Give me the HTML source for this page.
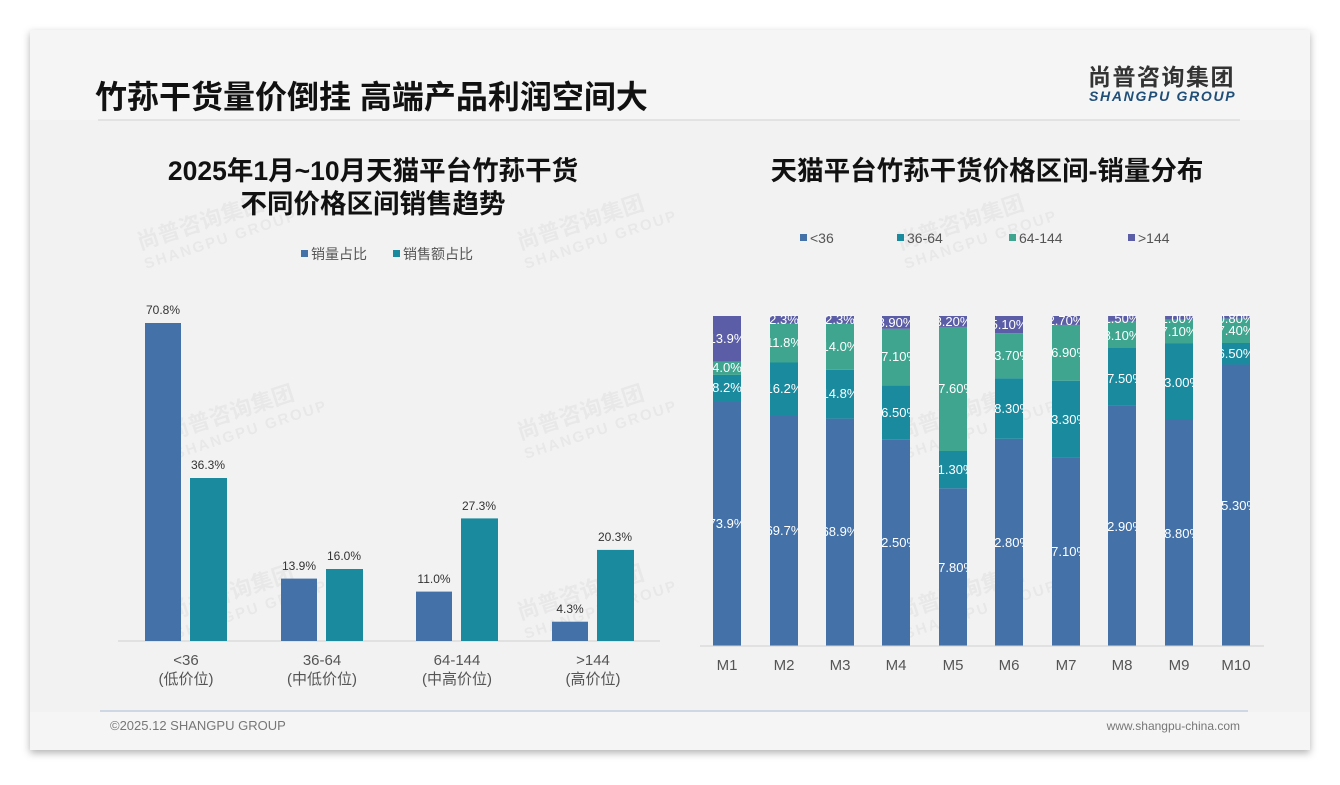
<!DOCTYPE html>
<html><head><meta charset="utf-8"><style>
body{margin:0;width:1340px;height:780px;background:#fff;overflow:hidden;font-family:"Liberation Sans","Noto Sans CJK SC",sans-serif}
</style></head><body>
<svg width="1340" height="780" xmlns="http://www.w3.org/2000/svg" font-family="Liberation Sans, Noto Sans CJK SC, sans-serif">
<defs>
<filter id="sh" x="-5%" y="-5%" width="110%" height="115%"><feDropShadow dx="0" dy="3" stdDeviation="4" flood-color="#000" flood-opacity="0.3"/></filter>
<clipPath id="c1"><rect x="713" y="300" width="28" height="350"/></clipPath>
<clipPath id="c2"><rect x="770" y="300" width="28" height="350"/></clipPath>
<clipPath id="c3"><rect x="826" y="300" width="28" height="350"/></clipPath>
<clipPath id="c4"><rect x="882" y="300" width="28" height="350"/></clipPath>
<clipPath id="c5"><rect x="939" y="300" width="28" height="350"/></clipPath>
<clipPath id="c6"><rect x="995" y="300" width="28" height="350"/></clipPath>
<clipPath id="c7"><rect x="1052" y="300" width="28" height="350"/></clipPath>
<clipPath id="c8"><rect x="1108" y="300" width="28" height="350"/></clipPath>
<clipPath id="c9"><rect x="1165" y="300" width="28" height="350"/></clipPath>
<clipPath id="c10"><rect x="1222" y="300" width="28" height="350"/></clipPath>
</defs>
<rect x="30" y="30" width="1280" height="720" fill="#f5f5f5" filter="url(#sh)"/>
<rect x="30" y="120" width="1280" height="592" fill="#f2f2f2"/>
<text x="95" y="108" font-size="32" font-weight="bold" fill="#111">竹荪干货量价倒挂 高端产品利润空间大</text>
<line x1="98" y1="120" x2="1240" y2="120" stroke="#ddd" stroke-width="1.5"/>
<text x="1088" y="85" font-size="23" font-weight="bold" fill="#333" letter-spacing="1.5">尚普咨询集团</text>
<text x="1089" y="101" font-size="14" font-weight="bold" font-style="italic" fill="#1f4e79" letter-spacing="1.7">SHANGPU GROUP</text>
<!-- watermarks -->
<g fill="#000" opacity="0.04" font-weight="bold">
<g transform="translate(140,250) rotate(-18)"><text font-size="22">尚普咨询集团</text><text y="20" font-size="15" letter-spacing="2">SHANGPU GROUP</text></g>
<g transform="translate(520,250) rotate(-18)"><text font-size="22">尚普咨询集团</text><text y="20" font-size="15" letter-spacing="2">SHANGPU GROUP</text></g>
<g transform="translate(900,250) rotate(-18)"><text font-size="22">尚普咨询集团</text><text y="20" font-size="15" letter-spacing="2">SHANGPU GROUP</text></g>
<g transform="translate(170,440) rotate(-18)"><text font-size="22">尚普咨询集团</text><text y="20" font-size="15" letter-spacing="2">SHANGPU GROUP</text></g>
<g transform="translate(520,440) rotate(-18)"><text font-size="22">尚普咨询集团</text><text y="20" font-size="15" letter-spacing="2">SHANGPU GROUP</text></g>
<g transform="translate(900,440) rotate(-18)"><text font-size="22">尚普咨询集团</text><text y="20" font-size="15" letter-spacing="2">SHANGPU GROUP</text></g>
<g transform="translate(170,620) rotate(-18)"><text font-size="22">尚普咨询集团</text><text y="20" font-size="15" letter-spacing="2">SHANGPU GROUP</text></g>
<g transform="translate(520,620) rotate(-18)"><text font-size="22">尚普咨询集团</text><text y="20" font-size="15" letter-spacing="2">SHANGPU GROUP</text></g>
<g transform="translate(900,620) rotate(-18)"><text font-size="22">尚普咨询集团</text><text y="20" font-size="15" letter-spacing="2">SHANGPU GROUP</text></g>
</g>
<!-- left chart -->
<text x="373" y="180" font-size="26.5" font-weight="bold" fill="#111" text-anchor="middle">2025年1月~10月天猫平台竹荪干货</text>
<text x="373" y="213" font-size="26.5" font-weight="bold" fill="#111" text-anchor="middle">不同价格区间销售趋势</text>
<rect x="301" y="250" width="7" height="7" fill="#4472a8"/><text x="311" y="259" font-size="14" fill="#555">销量占比</text>
<rect x="393" y="250" width="7" height="7" fill="#1a8a9e"/><text x="403" y="259" font-size="14" fill="#555">销售额占比</text>
<line x1="118" y1="641" x2="660" y2="641" stroke="#d0d0d0"/>
<g fill="#4472a8"><rect x="145" y="323" width="36" height="318"/><rect x="281" y="578.6" width="36" height="62.4"/><rect x="416" y="591.6" width="36" height="49.4"/><rect x="552" y="621.7" width="36" height="19.3"/></g>
<g fill="#1a8a9e"><rect x="190" y="478" width="37" height="163"/><rect x="326" y="569" width="37" height="72"/><rect x="461" y="518.4" width="37" height="122.6"/><rect x="597" y="549.9" width="37" height="91.1"/></g>
<g font-size="12" fill="#333" text-anchor="middle">
<text x="163" y="314">70.8%</text><text x="208" y="469">36.3%</text>
<text x="299" y="570">13.9%</text><text x="344" y="560">16.0%</text>
<text x="434" y="583">11.0%</text><text x="479" y="510">27.3%</text>
<text x="570" y="613">4.3%</text><text x="615" y="541">20.3%</text>
</g>
<g font-size="15" fill="#555" text-anchor="middle">
<text x="186" y="665">&lt;36</text><text x="186" y="684">(低价位)</text>
<text x="322" y="665">36-64</text><text x="322" y="684">(中低价位)</text>
<text x="457" y="665">64-144</text><text x="457" y="684">(中高价位)</text>
<text x="593" y="665">&gt;144</text><text x="593" y="684">(高价位)</text>
</g>
<!-- right chart -->
<text x="987" y="180" font-size="26.5" font-weight="bold" fill="#111" text-anchor="middle">天猫平台竹荪干货价格区间-销量分布</text>
<g font-size="14" fill="#555">
<rect x="800" y="234" width="7" height="7" fill="#4472a8"/><text x="810" y="243">&lt;36</text>
<rect x="897" y="234" width="7" height="7" fill="#1a8a9e"/><text x="907" y="243">36-64</text>
<rect x="1009" y="234" width="7" height="7" fill="#3fa58f"/><text x="1019" y="243">64-144</text>
<rect x="1128" y="234" width="7" height="7" fill="#5b5ea6"/><text x="1138" y="243">&gt;144</text>
</g>
<g font-size="13" fill="#fff" text-anchor="middle">
<g clip-path="url(#c1)"><rect x="713" y="402" width="28" height="244" fill="#4472a8"/><rect x="713" y="374.9" width="28" height="27.1" fill="#1a8a9e"/><rect x="713" y="361.7" width="28" height="13.2" fill="#3fa58f"/><rect x="713" y="316" width="28" height="45.7" fill="#5b5ea6"/>
<text x="727" y="528">73.9%</text><text x="727" y="392">8.2%</text><text x="727" y="372">4.0%</text><text x="727" y="343">13.9%</text></g>
<g clip-path="url(#c2)"><rect x="770" y="416" width="28" height="230" fill="#4472a8"/><rect x="770" y="362.5" width="28" height="53.5" fill="#1a8a9e"/><rect x="770" y="323.6" width="28" height="38.9" fill="#3fa58f"/><rect x="770" y="316" width="28" height="7.6" fill="#5b5ea6"/>
<text x="784" y="535">69.7%</text><text x="784" y="393">16.2%</text><text x="784" y="347">11.8%</text><text x="784" y="324">2.3%</text></g>
<g clip-path="url(#c3)"><rect x="826" y="418.6" width="28" height="227.4" fill="#4472a8"/><rect x="826" y="369.8" width="28" height="48.8" fill="#1a8a9e"/><rect x="826" y="323.6" width="28" height="46.2" fill="#3fa58f"/><rect x="826" y="316" width="28" height="7.6" fill="#5b5ea6"/>
<text x="840" y="536">68.9%</text><text x="840" y="398">14.8%</text><text x="840" y="351">14.0%</text><text x="840" y="324">2.3%</text></g>
<g clip-path="url(#c4)"><rect x="882" y="439.7" width="28" height="206.3" fill="#4472a8"/><rect x="882" y="385.2" width="28" height="54.5" fill="#1a8a9e"/><rect x="882" y="328.8" width="28" height="56.4" fill="#3fa58f"/><rect x="882" y="316" width="28" height="12.8" fill="#5b5ea6"/>
<text x="896" y="547">62.50%</text><text x="896" y="417">16.50%</text><text x="896" y="361">17.10%</text><text x="896" y="327">3.90%</text></g>
<g clip-path="url(#c5)"><rect x="939" y="488.3" width="28" height="157.7" fill="#4472a8"/><rect x="939" y="451" width="28" height="37.3" fill="#1a8a9e"/><rect x="939" y="326.9" width="28" height="124.1" fill="#3fa58f"/><rect x="939" y="316" width="28" height="10.9" fill="#5b5ea6"/>
<text x="953" y="572">47.80%</text><text x="953" y="474">11.30%</text><text x="953" y="393">37.60%</text><text x="953" y="326">3.20%</text></g>
<g clip-path="url(#c6)"><rect x="995" y="438.8" width="28" height="207.2" fill="#4472a8"/><rect x="995" y="378.4" width="28" height="60.4" fill="#1a8a9e"/><rect x="995" y="333.2" width="28" height="45.2" fill="#3fa58f"/><rect x="995" y="316" width="28" height="17.2" fill="#5b5ea6"/>
<text x="1009" y="547">62.80%</text><text x="1009" y="413">18.30%</text><text x="1009" y="360">13.70%</text><text x="1009" y="329">5.10%</text></g>
<g clip-path="url(#c7)"><rect x="1052" y="457.6" width="28" height="188.4" fill="#4472a8"/><rect x="1052" y="380.7" width="28" height="76.9" fill="#1a8a9e"/><rect x="1052" y="324.9" width="28" height="55.8" fill="#3fa58f"/><rect x="1052" y="316" width="28" height="8.9" fill="#5b5ea6"/>
<text x="1066" y="556">57.10%</text><text x="1066" y="424">23.30%</text><text x="1066" y="357">16.90%</text><text x="1066" y="325">2.70%</text></g>
<g clip-path="url(#c8)"><rect x="1108" y="405.4" width="28" height="240.6" fill="#4472a8"/><rect x="1108" y="347.6" width="28" height="57.8" fill="#1a8a9e"/><rect x="1108" y="320.9" width="28" height="26.7" fill="#3fa58f"/><rect x="1108" y="316" width="28" height="4.9" fill="#5b5ea6"/>
<text x="1122" y="531">72.90%</text><text x="1122" y="383">17.50%</text><text x="1122" y="340">8.10%</text><text x="1122" y="323">1.50%</text></g>
<g clip-path="url(#c9)"><rect x="1165" y="419" width="28" height="227" fill="#4472a8"/><rect x="1165" y="343.1" width="28" height="75.9" fill="#1a8a9e"/><rect x="1165" y="319.7" width="28" height="23.4" fill="#3fa58f"/><rect x="1165" y="316" width="28" height="3.7" fill="#5b5ea6"/>
<text x="1179" y="538">68.80%</text><text x="1179" y="387">23.00%</text><text x="1179" y="336">7.10%</text><text x="1179" y="323">1.00%</text></g>
<g clip-path="url(#c10)"><rect x="1222" y="364.5" width="28" height="281.5" fill="#4472a8"/><rect x="1222" y="343" width="28" height="21.5" fill="#1a8a9e"/><rect x="1222" y="318.6" width="28" height="24.4" fill="#3fa58f"/><rect x="1222" y="316" width="28" height="2.6" fill="#5b5ea6"/>
<text x="1236" y="510">85.30%</text><text x="1236" y="358">6.50%</text><text x="1236" y="335">7.40%</text><text x="1236" y="323">0.80%</text></g>
</g>
<line x1="700" y1="646" x2="1264" y2="646" stroke="#d0d0d0"/>
<g font-size="15" fill="#555" text-anchor="middle">
<text x="727" y="670">M1</text><text x="784" y="670">M2</text><text x="840" y="670">M3</text><text x="896" y="670">M4</text><text x="953" y="670">M5</text><text x="1009" y="670">M6</text><text x="1066" y="670">M7</text><text x="1122" y="670">M8</text><text x="1179" y="670">M9</text><text x="1236" y="670">M10</text>
</g>
<line x1="100" y1="711" x2="1248" y2="711" stroke="#a9bfd6" stroke-width="1"/>
<text x="110" y="730" font-size="13" fill="#777">©2025.12 SHANGPU GROUP</text>
<text x="1240" y="730" font-size="12" fill="#777" text-anchor="end">www.shangpu-china.com</text>
</svg>
</body></html>
